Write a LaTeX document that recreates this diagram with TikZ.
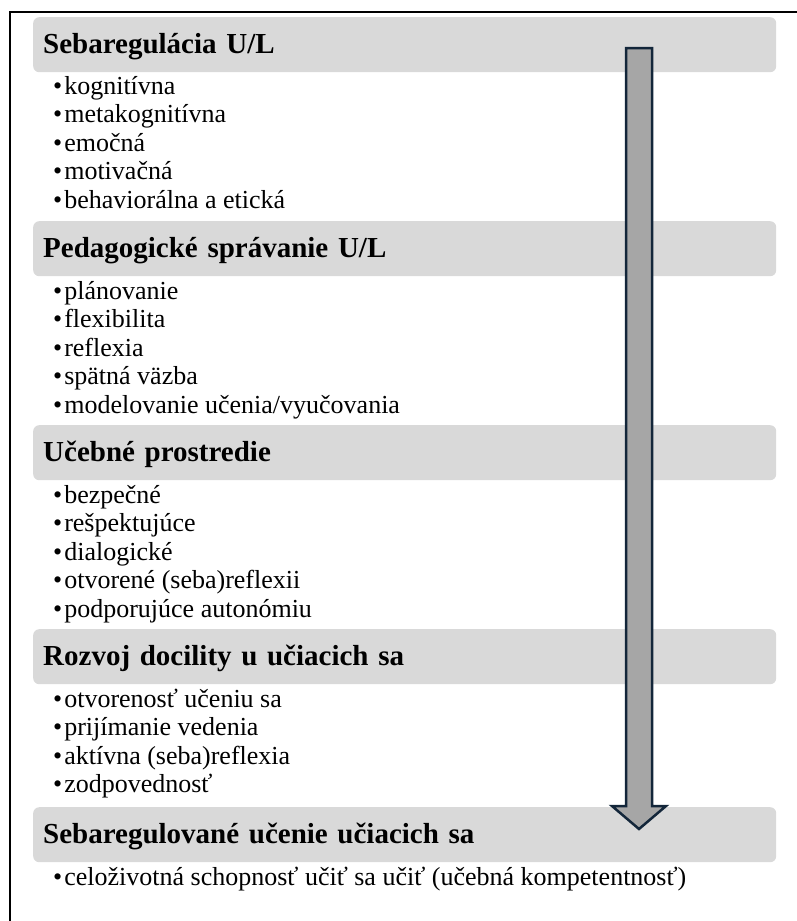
\documentclass[tikz,border=0pt]{standalone}
\usepackage{fontspec}
\setmainfont{Liberation Serif}
\usepackage{xcolor}
\definecolor{bargray}{HTML}{D9D9D9}
\definecolor{arrowgray}{HTML}{A6A6A6}
\definecolor{arrownavy}{HTML}{13263A}

\tikzset{
  bar/.style={fill=bargray,rounded corners=6pt,anchor=north west,
    minimum width=743pt,text width=723pt,align=left,inner xsep=10pt,
    inner ysep=0pt,text height=36pt,text depth=19pt,
    font=\fontsize{29}{32}\selectfont\bfseries},
  item/.style={anchor=base west,inner sep=0pt,font=\fontsize{26}{28}\selectfont},
}

\begin{document}
\begin{tikzpicture}[x=1pt,y=-1pt]
  \useasboundingbox (0,0) rectangle (797,921);
  % frame
  \draw[line width=2pt] (797,12) -- (10,12) -- (10,921);
  % headings
  \node[bar] (h1) at (33,17) {Sebaregulácia U/L};
  \node[bar] (h2) at (33,221) {Pedagogické správanie U/L};
  \node[bar] (h3) at (33,425) {Učebné prostredie};
  \node[bar] (h4) at (33,629) {Rozvoj docility u učiacich sa};
  \node[bar] (h5) at (33,807) {Sebaregulované učenie učiacich sa};
  % items
  \foreach \t [count=\i] in {kognitívna, metakognitívna, emočná, motivačná, behaviorálna a etická}
    \node[item] (a\i) at (53,94+28.5*\i-28.5) {•\hspace{2pt}\t};
  \foreach \t [count=\i] in {plánovanie, flexibilita, reflexia, spätná väzba, modelovanie učenia/vyučovania}
    \node[item] (b\i) at (53,299+28.5*\i-28.5) {•\hspace{2pt}\t};
  \foreach \t [count=\i] in {bezpečné, rešpektujúce, dialogické, {otvorené (seba)reflexii}, podporujúce autonómiu}
    \node[item] (c\i) at (53,503+28.5*\i-28.5) {•\hspace{2pt}\t};
  \foreach \t [count=\i] in {{otvorenosť učeniu sa}, prijímanie vedenia, {aktívna (seba)reflexia}, zodpovednosť}
    \node[item] (d\i) at (53,707+28.5*\i-28.5) {•\hspace{2pt}\t};
  \node[item] (e1) at (53,885) {•\hspace{2pt}celoživotná schopnosť učiť sa učiť (učebná kompetentnosť)};
  % arrow
  \draw[fill=arrowgray,draw=arrownavy,line width=2.5pt,line join=miter]
    (626,48) -- (652,48) -- (652,806) -- (666,806) -- (639,829)
    -- (612,806) -- (626,806) -- cycle;
\end{tikzpicture}
\end{document}
